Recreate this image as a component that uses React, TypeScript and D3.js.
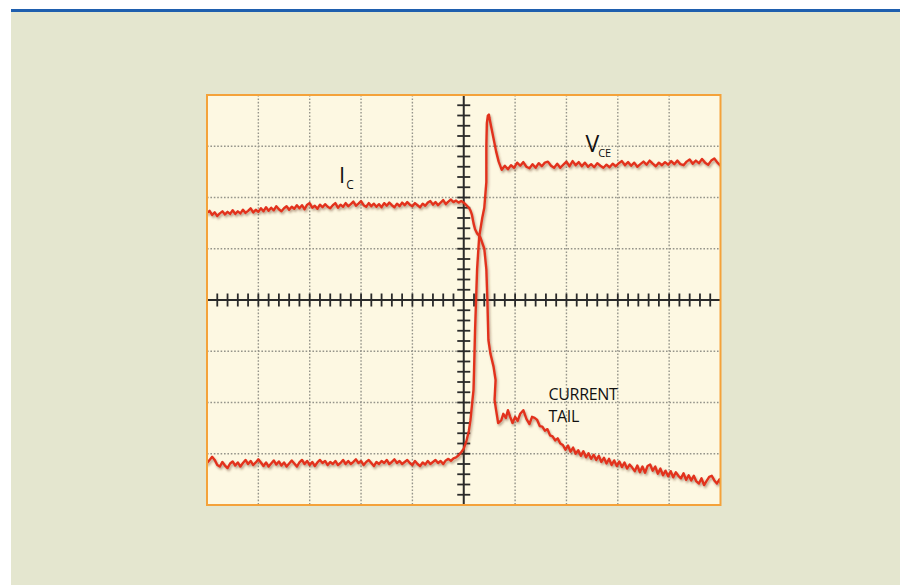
import React from 'react';
import * as d3 from 'd3';

// Ic trace: time (divisions) and amplitude (divisions)
const icT = [
  -5.00, -4.95, -4.90, -4.85, -4.80, -4.75, -4.70, -4.65, -4.60, -4.55, -4.50, -4.45, -4.40, -4.35, -4.30, -4.25, -4.20, -4.15, -4.10, -4.05,
  -4.00, -3.95, -3.90, -3.85, -3.80, -3.75, -3.70, -3.65, -3.60, -3.55, -3.50, -3.45, -3.40, -3.35, -3.30, -3.25, -3.20, -3.15, -3.10, -3.05,
  -3.00, -2.95, -2.90, -2.85, -2.80, -2.75, -2.70, -2.65, -2.60, -2.55, -2.50, -2.45, -2.40, -2.35, -2.30, -2.25, -2.20, -2.15, -2.10, -2.05,
  -2.00, -1.95, -1.90, -1.85, -1.80, -1.75, -1.70, -1.65, -1.60, -1.55, -1.50, -1.45, -1.40, -1.35, -1.30, -1.25, -1.20, -1.15, -1.10, -1.05,
  -1.00, -0.95, -0.90, -0.85, -0.80, -0.75, -0.70, -0.65, -0.60, -0.55, -0.50, -0.45, -0.40, -0.35, -0.30, -0.25, -0.20, -0.15, -0.10, -0.05,
  0.00, 0.04, 0.10, 0.13, 0.16, 0.19, 0.22, 0.26, 0.32, 0.40, 0.44, 0.46, 0.48, 0.52, 0.58, 0.62, 0.60, 0.63, 0.67, 0.73,
  0.77, 0.82, 0.86, 0.90, 0.95, 1.00, 1.05, 1.10, 1.16, 1.22, 1.28, 1.33, 1.38, 1.43, 1.48, 1.53, 1.58, 1.63, 1.68, 1.73,
  1.78, 1.83, 1.88, 1.93, 1.98, 2.03, 2.08, 2.13, 2.18, 2.23, 2.28, 2.33, 2.38, 2.43, 2.48, 2.53, 2.58, 2.63, 2.68, 2.73,
  2.78, 2.83, 2.88, 2.93, 2.98, 3.03, 3.08, 3.13, 3.18, 3.23, 3.28, 3.33, 3.38, 3.43, 3.48, 3.53, 3.58, 3.63, 3.68, 3.73,
  3.78, 3.83, 3.88, 3.93, 3.98, 4.03, 4.08, 4.13, 4.18, 4.23, 4.28, 4.33, 4.38, 4.43, 4.48, 4.53, 4.58, 4.63, 4.68, 4.73,
  4.78, 4.83, 4.88, 4.93, 4.98, 5.00,
];
const icV = [
  1.70, 1.74, 1.66, 1.71, 1.64, 1.69, 1.73, 1.67, 1.72, 1.68, 1.75, 1.68, 1.73, 1.69, 1.76, 1.70, 1.74, 1.79, 1.71, 1.76,
  1.72, 1.79, 1.73, 1.81, 1.74, 1.80, 1.75, 1.83, 1.77, 1.73, 1.79, 1.83, 1.76, 1.82, 1.78, 1.85, 1.79, 1.85, 1.77, 1.86,
  1.89, 1.80, 1.84, 1.78, 1.86, 1.81, 1.87, 1.82, 1.79, 1.85, 1.89, 1.80, 1.86, 1.82, 1.89, 1.83, 1.87, 1.92, 1.84, 1.88,
  1.93, 1.85, 1.82, 1.89, 1.83, 1.88, 1.82, 1.87, 1.81, 1.89, 1.84, 1.90, 1.85, 1.81, 1.88, 1.83, 1.90, 1.85, 1.91, 1.86,
  1.83, 1.89, 1.85, 1.81, 1.88, 1.84, 1.90, 1.93, 1.86, 1.91, 1.85, 1.90, 1.95, 1.87, 1.92, 1.96, 1.91, 1.94, 1.90, 1.93,
  1.90, 1.86, 1.80, 1.75, 1.66, 1.50, 1.38, 1.30, 1.23, 1.00, 0.60, 0.00, -0.78, -1.05, -1.30, -1.56, -1.95, -2.15, -2.40, -2.35,
  -2.22, -2.30, -2.15, -2.27, -2.40, -2.28, -2.36, -2.22, -2.15, -2.32, -2.42, -2.28, -2.30, -2.34, -2.46, -2.47, -2.55, -2.52, -2.64, -2.66,
  -2.74, -2.70, -2.80, -2.83, -2.92, -2.84, -2.96, -2.88, -3.00, -2.93, -3.04, -2.95, -3.07, -2.99, -3.10, -3.02, -3.12, -3.04, -3.16, -3.08,
  -3.19, -3.10, -3.22, -3.13, -3.24, -3.15, -3.26, -3.17, -3.29, -3.21, -3.27, -3.34, -3.23, -3.36, -3.25, -3.37, -3.24, -3.21, -3.33, -3.25,
  -3.39, -3.29, -3.42, -3.33, -3.44, -3.34, -3.46, -3.36, -3.43, -3.48, -3.38, -3.51, -3.42, -3.52, -3.43, -3.54, -3.58, -3.48, -3.61, -3.53,
  -3.45, -3.43, -3.52, -3.58, -3.50, -3.57,
];

// VCE trace
const vceT = [
  -5.00, -4.95, -4.90, -4.85, -4.80, -4.75, -4.70, -4.65, -4.60, -4.55, -4.50, -4.45, -4.40, -4.35, -4.30, -4.25, -4.20, -4.15, -4.10, -4.05,
  -4.00, -3.95, -3.90, -3.85, -3.80, -3.75, -3.70, -3.65, -3.60, -3.55, -3.50, -3.45, -3.40, -3.35, -3.30, -3.25, -3.20, -3.15, -3.10, -3.05,
  -3.00, -2.95, -2.90, -2.85, -2.80, -2.75, -2.70, -2.65, -2.60, -2.55, -2.50, -2.45, -2.40, -2.35, -2.30, -2.25, -2.20, -2.15, -2.10, -2.05,
  -2.00, -1.95, -1.90, -1.85, -1.80, -1.75, -1.70, -1.65, -1.60, -1.55, -1.50, -1.45, -1.40, -1.35, -1.30, -1.25, -1.20, -1.15, -1.10, -1.05,
  -1.00, -0.95, -0.90, -0.85, -0.80, -0.75, -0.70, -0.65, -0.60, -0.55, -0.50, -0.45, -0.40, -0.35, -0.30, -0.25, -0.20, -0.15, -0.10, -0.05,
  0.00, 0.05, 0.10, 0.13, 0.17, 0.19, 0.20, 0.22, 0.24, 0.26, 0.30, 0.36, 0.40, 0.44, 0.44, 0.45, 0.47, 0.49, 0.50, 0.54,
  0.58, 0.63, 0.68, 0.74, 0.80, 0.86, 0.92, 0.98, 1.04, 1.10, 1.16, 1.22, 1.28, 1.34, 1.40, 1.46, 1.52, 1.58, 1.64, 1.70,
  1.76, 1.82, 1.88, 1.94, 2.00, 2.06, 2.12, 2.18, 2.24, 2.30, 2.36, 2.42, 2.48, 2.54, 2.60, 2.66, 2.72, 2.78, 2.84, 2.90,
  2.96, 3.02, 3.08, 3.14, 3.20, 3.26, 3.32, 3.38, 3.44, 3.50, 3.56, 3.62, 3.68, 3.74, 3.80, 3.86, 3.92, 3.98, 4.04, 4.10,
  4.16, 4.22, 4.28, 4.34, 4.40, 4.46, 4.52, 4.58, 4.64, 4.70, 4.76, 4.82, 4.88, 4.94, 5.00,
];
const vceV = [
  -3.18, -3.12, -3.06, -3.12, -3.22, -3.25, -3.16, -3.23, -3.28, -3.19, -3.15, -3.23, -3.17, -3.25, -3.18, -3.12, -3.20, -3.14, -3.22, -3.17,
  -3.11, -3.17, -3.24, -3.17, -3.25, -3.19, -3.13, -3.21, -3.15, -3.23, -3.17, -3.25, -3.19, -3.13, -3.19, -3.25, -3.17, -3.12, -3.20, -3.14,
  -3.22, -3.16, -3.24, -3.17, -3.12, -3.18, -3.14, -3.22, -3.16, -3.20, -3.14, -3.22, -3.18, -3.12, -3.20, -3.14, -3.20, -3.16, -3.11, -3.18,
  -3.14, -3.22, -3.16, -3.12, -3.18, -3.24, -3.16, -3.20, -3.14, -3.18, -3.12, -3.20, -3.16, -3.11, -3.18, -3.14, -3.20, -3.16, -3.12, -3.18,
  -3.22, -3.14, -3.20, -3.24, -3.17, -3.21, -3.14, -3.20, -3.16, -3.12, -3.18, -3.14, -3.20, -3.13, -3.10, -3.14, -3.09, -3.07, -3.03, -2.97,
  -2.90, -2.76, -2.55, -2.35, -1.95, -1.76, -1.40, -0.60, 0.00, 0.60, 1.23, 1.60, 1.80, 2.30, 3.00, 3.45, 3.60, 3.62, 3.55, 3.35,
  3.15, 2.90, 2.70, 2.54, 2.62, 2.55, 2.63, 2.58, 2.68, 2.62, 2.69, 2.60, 2.57, 2.65, 2.58, 2.67, 2.61, 2.68, 2.70, 2.62,
  2.58, 2.66, 2.58, 2.64, 2.70, 2.61, 2.71, 2.63, 2.69, 2.61, 2.68, 2.60, 2.65, 2.59, 2.67, 2.62, 2.58, 2.64, 2.59, 2.66,
  2.61, 2.67, 2.71, 2.63, 2.69, 2.62, 2.68, 2.60, 2.65, 2.70, 2.64, 2.72, 2.66, 2.61, 2.68, 2.63, 2.69, 2.64, 2.71, 2.65,
  2.72, 2.65, 2.63, 2.70, 2.74, 2.66, 2.72, 2.67, 2.75, 2.68, 2.64, 2.72, 2.76, 2.68, 2.62,
];

const xDomain = [-5, 5];
const yDomain = [-4, 4];

const labelIc = { main: 'I', sub: 'C', t: -2.43, v: 2.29 };
const labelVce = { main: 'V', sub: 'CE', t: 2.37, v: 2.89 };
const tailLines = ['CURRENT', 'TAIL'];
const tailPos = { t: 1.65, v: -1.95, dv: -0.43 };

const W = 900;
const H = 585;

export default function App() {
  const x = d3.scaleLinear().domain(xDomain).range([207, 720.5]);
  const y = d3.scaleLinear().domain(yDomain).range([505, 95]);

  const line = d3
    .line<[number, number]>()
    .x((d) => x(d[0]))
    .y((d) => y(d[1]));

  const icPts = icT.map((t, i) => [t, icV[i]] as [number, number]);
  const vcePts = vceT.map((t, i) => [t, vceV[i]] as [number, number]);

  const gridX = d3.range(xDomain[0] + 1, xDomain[1]).filter((d) => d !== 0);
  const gridY = d3.range(yDomain[0] + 1, yDomain[1]).filter((d) => d !== 0);
  const minorX = d3.range(xDomain[0] * 5 + 1, xDomain[1] * 5).filter((d) => d !== 0).map((d) => d / 5);
  const minorY = d3.range(yDomain[0] * 5 + 1, yDomain[1] * 5).filter((d) => d !== 0).map((d) => d / 5);

  const x0 = x(0);
  const y0 = y(0);
  const font = "'Open Sans', 'Noto Sans', sans-serif";

  return (
    <svg
      width={W}
      height={H}
      style={{ position: 'absolute', left: 0, top: 0, display: 'block' }}
      xmlns="http://www.w3.org/2000/svg"
    >
      <defs>
        <filter id="shadow" x="-5%" y="-5%" width="110%" height="110%">
          <feDropShadow dx="1.2" dy="2" stdDeviation="1.1" floodColor="#6b3a20" floodOpacity="0.45" />
        </filter>
        <clipPath id="plotClip">
          <rect x={x(-5)} y={y(4)} width={x(5) - x(-5)} height={y(-4) - y(4)} />
        </clipPath>
      </defs>
      <rect x={0} y={0} width={W} height={H} fill="#ffffff" />
      <rect x={11} y={9} width={W - 11} height={H - 9} fill="#e4e6cf" />
      <rect x={11} y={9} width={W - 11} height={3} fill="#1f5fae" />

      {/* plot background */}
      <rect x={x(-5)} y={y(4)} width={x(5) - x(-5)} height={y(-4) - y(4)} fill="#fdf8e2" />

      {/* dotted grid */}
      <g stroke="#95948a" strokeWidth={1.4} strokeDasharray="1.6,1.8">
        {gridX.map((d) => (
          <line key={'gx' + d} x1={x(d)} x2={x(d)} y1={y(4)} y2={y(-4)} />
        ))}
        {gridY.map((d) => (
          <line key={'gy' + d} x1={x(-5)} x2={x(5)} y1={y(d)} y2={y(d)} />
        ))}
      </g>

      {/* center axes with ticks */}
      <g stroke="#2a2a2a">
        <line x1={x0} x2={x0} y1={y(4)} y2={y(-4)} strokeWidth={2} />
        <line x1={x(-5)} x2={x(5)} y1={y0} y2={y0} strokeWidth={2} />
        {minorY.map((d) => (
          <line key={'ty' + d} x1={x0 - 6.5} x2={x0 + 6.5} y1={y(d)} y2={y(d)} strokeWidth={1.8} />
        ))}
        {minorX.map((d) => (
          <line key={'tx' + d} x1={x(d)} x2={x(d)} y1={y0 - 6.5} y2={y0 + 6.5} strokeWidth={1.8} />
        ))}
      </g>

      {/* traces */}
      <g clipPath="url(#plotClip)">
        <g filter="url(#shadow)" fill="none" stroke="#e2321f" strokeWidth={2.4} strokeLinejoin="round" strokeLinecap="round">
          <path d={line(icPts) || ''} />
          <path d={line(vcePts) || ''} />
        </g>
      </g>

      {/* border */}
      <rect
        x={x(-5)}
        y={y(4)}
        width={x(5) - x(-5)}
        height={y(-4) - y(4)}
        fill="none"
        stroke="#f4a23a"
        strokeWidth={2}
      />

      {/* labels */}
      <g fill="#111" fontFamily={font}>
        <text x={x(labelIc.t)} y={y(labelIc.v)} fontSize={22}>
          {labelIc.main}
          <tspan dx={1} dy={6} fontSize={12}>{labelIc.sub}</tspan>
        </text>
        <text x={x(labelVce.t)} y={y(labelVce.v)} fontSize={23}>
          {labelVce.main}
          <tspan dx={-1} dy={5} fontSize={11}>{labelVce.sub}</tspan>
        </text>
        {tailLines.map((s, i) => (
          <text key={s} x={x(tailPos.t)} y={y(tailPos.v + i * tailPos.dv)} fontSize={16} letterSpacing={-0.3}>
            {s}
          </text>
        ))}
      </g>
    </svg>
  );
}
